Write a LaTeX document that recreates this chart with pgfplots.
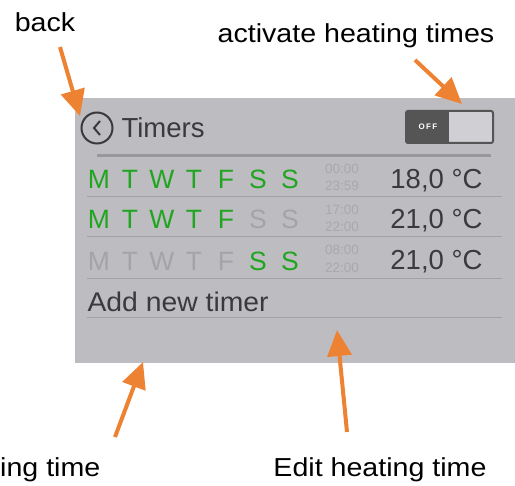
\documentclass[border=0pt]{standalone}
\usepackage{pgfplots}
\pgfplotsset{compat=1.18}
\usetikzlibrary{arrows.meta}
\usepackage{fontspec}
\usepackage{graphicx}
\setmainfont{Liberation Sans}
\definecolor{panel}{HTML}{BDBCC0}
\definecolor{dtext}{HTML}{3A3A3C}
\definecolor{dgreen}{HTML}{1FA51F}
\definecolor{lgrey}{HTML}{A4A4A7}
\definecolor{tgrey}{HTML}{A9A9AC}
\definecolor{divider}{HTML}{A2A2A5}
\definecolor{hline}{HTML}{98979B}
\definecolor{arrow}{HTML}{EE8233}
\definecolor{togdark}{HTML}{555555}
\definecolor{toglight}{HTML}{D0CFD3}
\newcommand{\ann}[1]{\scalebox{1.1}[1]{\fontsize{26}{30}\selectfont #1}}
\begin{document}
\begin{tikzpicture}
\begin{axis}[scale only axis, width=515pt, height=483pt,
  xmin=0, xmax=515, ymin=0, ymax=483, y dir=reverse,
  hide axis, clip=false]
% background
\addplot[draw=none, fill=white] coordinates {(0,0)(515,0)(515,483)(0,483)} -- cycle;
% panel
\addplot[draw=none, fill=panel] coordinates {(75,98)(515,98)(515,363)(75,363)} -- cycle;
% header line
\addplot[hline, line width=3pt] coordinates {(97,156)(491,156)};
% dividers
\addplot[divider, line width=1pt] coordinates {(87,197)(502,197)};
\addplot[divider, line width=1pt] coordinates {(87,237)(502,237)};
\addplot[divider, line width=1pt] coordinates {(87,279)(502,279)};
\addplot[divider, line width=1pt] coordinates {(87,318)(502,318)};
% back icon
\addplot[only marks, mark=o, mark size=15.5pt, mark options={draw=dtext, line width=2pt}] coordinates {(97,128)};
\addplot[dtext, line width=2pt] coordinates {(100,121)(94,128)(100,135)};
% toggle
\addplot[draw=none, fill=toglight] coordinates {(449,111)(493,111)(493,143)(449,143)} -- cycle;
\addplot[draw=none, fill=togdark] coordinates {(406,111)(449,111)(449,143)(406,143)} -- cycle;
\addplot[togdark, line width=2pt, rounded corners=2pt] coordinates {(406,111)(493,111)(493,143)(406,143)} -- cycle;
\node[white, font=\fontsize{8}{9}\selectfont\bfseries] at (428,127) {O\,F\,F};
% title
\node[dtext, anchor=west, font=\fontsize{27.5}{30}\selectfont] at (118,128) {Timers};
% days rows
\foreach \x/\c/\l in {99/dgreen/M,130/dgreen/T,162/dgreen/W,194/dgreen/T,226/dgreen/F,258/dgreen/S,290/dgreen/S}{
  \edef\tmp{\noexpand\node[\c, font=\noexpand\fontsize{26.5}{30}\noexpand\selectfont] at (\x,179) {\l};}\tmp}
\foreach \x/\c/\l in {99/dgreen/M,130/dgreen/T,162/dgreen/W,194/dgreen/T,226/dgreen/F,258/lgrey/S,290/lgrey/S}{
  \edef\tmp{\noexpand\node[\c, font=\noexpand\fontsize{26.5}{30}\noexpand\selectfont] at (\x,219) {\l};}\tmp}
\foreach \x/\c/\l in {99/lgrey/M,130/lgrey/T,162/lgrey/W,194/lgrey/T,226/lgrey/F,258/dgreen/S,290/dgreen/S}{
  \edef\tmp{\noexpand\node[\c, font=\noexpand\fontsize{26.5}{30}\noexpand\selectfont] at (\x,261) {\l};}\tmp}
% times
\node[tgrey, font=\fontsize{13.5}{15}\selectfont] at (342,169) {00:00};
\node[tgrey, font=\fontsize{13.5}{15}\selectfont] at (342,186) {23:59};
\node[tgrey, font=\fontsize{13.5}{15}\selectfont] at (342,210) {17:00};
\node[tgrey, font=\fontsize{13.5}{15}\selectfont] at (342,227) {22:00};
\node[tgrey, font=\fontsize{13.5}{15}\selectfont] at (342,250) {08:00};
\node[tgrey, font=\fontsize{13.5}{15}\selectfont] at (342,268) {22:00};
% temperatures
\node[dtext, anchor=east, font=\fontsize{27.5}{30}\selectfont] at (486,181) {18,0 °C};
\node[dtext, anchor=east, font=\fontsize{27.5}{30}\selectfont] at (486,221) {21,0 °C};
\node[dtext, anchor=east, font=\fontsize{27.5}{30}\selectfont] at (486,262) {21,0 °C};
% add new timer
\node[dtext, anchor=west, font=\fontsize{27}{30}\selectfont] at (84,302) {\scalebox{1.05}[1]{Add new timer}};
% annotations
\node[anchor=base] at (45,32) {\ann{back}};
\node[anchor=base] at (356,43) {\ann{activate heating times}};
\node[anchor=base] at (380,477) {\ann{Edit heating time}};
\node[anchor=base west, inner sep=0pt] at (0,477) {\ann{ing time}};
% arrows
\addplot[arrow, line width=4pt, -{Triangle[length=26pt,width=24pt]}] coordinates {(60,47)(80,116)};
\addplot[arrow, line width=4pt, -{Triangle[length=26pt,width=24pt]}] coordinates {(415,60)(462,104)};
\addplot[arrow, line width=4pt, -{Triangle[length=26pt,width=24pt]}] coordinates {(347,432)(337,330)};
\addplot[arrow, line width=4pt, -{Triangle[length=26pt,width=24pt]}] coordinates {(115,437)(143,362)};
\end{axis}
\end{tikzpicture}
\end{document}
